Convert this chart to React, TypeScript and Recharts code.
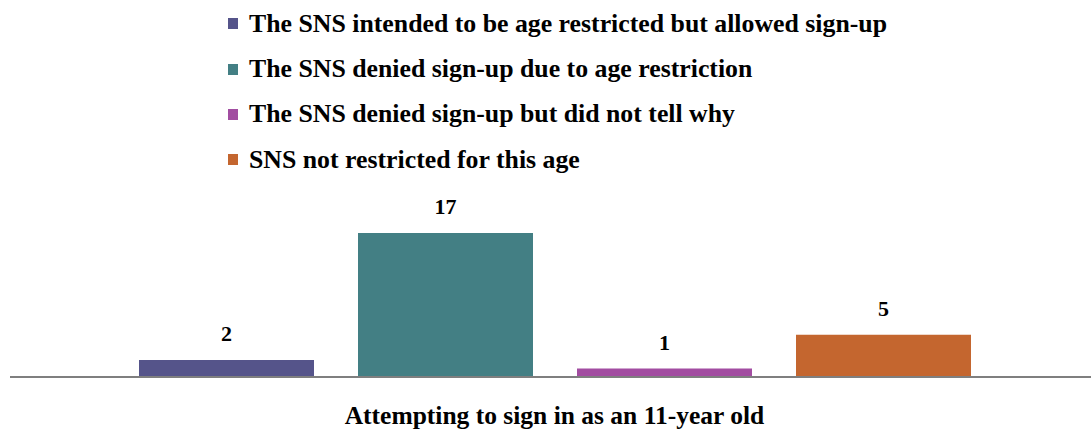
import React from 'react';
import { BarChart, Bar, XAxis, YAxis, LabelList } from 'recharts';

const categories = ['Attempting to sign in as an 11-year old'];
const seriesNames = [
  'The SNS intended to be age restricted but allowed sign-up',
  'The SNS denied sign-up due to age restriction',
  'The SNS denied sign-up but did not tell why',
  'SNS not restricted for this age',
];
const seriesValues = [2, 17, 1, 5];
const seriesColors = ['#55548a', '#437f84', '#a24da1', '#c4662f'];

const data = categories.map((name) => {
  const row: Record<string, string | number> = { name };
  seriesNames.forEach((s, i) => {
    row[`s${i}`] = seriesValues[i];
  });
  return row;
});

const FONT = '"Liberation Serif", "DejaVu Serif", serif';

const ChartLegend = () => (
  <div style={{ position: 'absolute', left: 228, top: 1, fontFamily: FONT, fontWeight: 'bold', fontSize: 25.8, color: '#000' }}>
    {seriesNames.map((s, i) => (
      <div key={s} style={{ display: 'flex', alignItems: 'center', height: 45.4, whiteSpace: 'nowrap' }}>
        <span style={{ display: 'inline-block', width: 10, height: 11, background: seriesColors[i], marginRight: 11 }} />
        <span>{s}</span>
      </div>
    ))}
  </div>
);

const CategoryTick = ({ x, y, payload }: any) => (
  <text x={x} y={y + 33} textAnchor="middle" dominantBaseline="middle" fontFamily={FONT} fontWeight="bold" fontSize={25.5} fill="#000">
    {payload.value}
  </text>
);

export default function App() {
  return (
    <div style={{ position: 'absolute', left: 0, top: 0, width: 1091, height: 431, overflow: 'hidden' }}>
      <BarChart
        width={1099}
        height={431}
        data={data}
        margin={{ top: 207.6, right: 0, left: 10, bottom: 0 }}
        barGap={44}
        barSize={175}
      >
        <XAxis
          dataKey="name"
          height={54}
          axisLine={{ stroke: '#7f7f7f', strokeWidth: 2 }}
          tickLine={false}
          tick={<CategoryTick />}
          interval={0}
        />
        <YAxis hide domain={[0, 20]} />
        {seriesNames.map((s, i) => (
          <Bar key={s} dataKey={`s${i}`} name={s} fill={seriesColors[i]} isAnimationActive={false}>
            <LabelList dataKey={`s${i}`} position="top" offset={19} fontFamily={FONT} fontWeight="bold" fontSize={22} fill="#000" />
          </Bar>
        ))}
      </BarChart>
      <ChartLegend />
    </div>
  );
}
